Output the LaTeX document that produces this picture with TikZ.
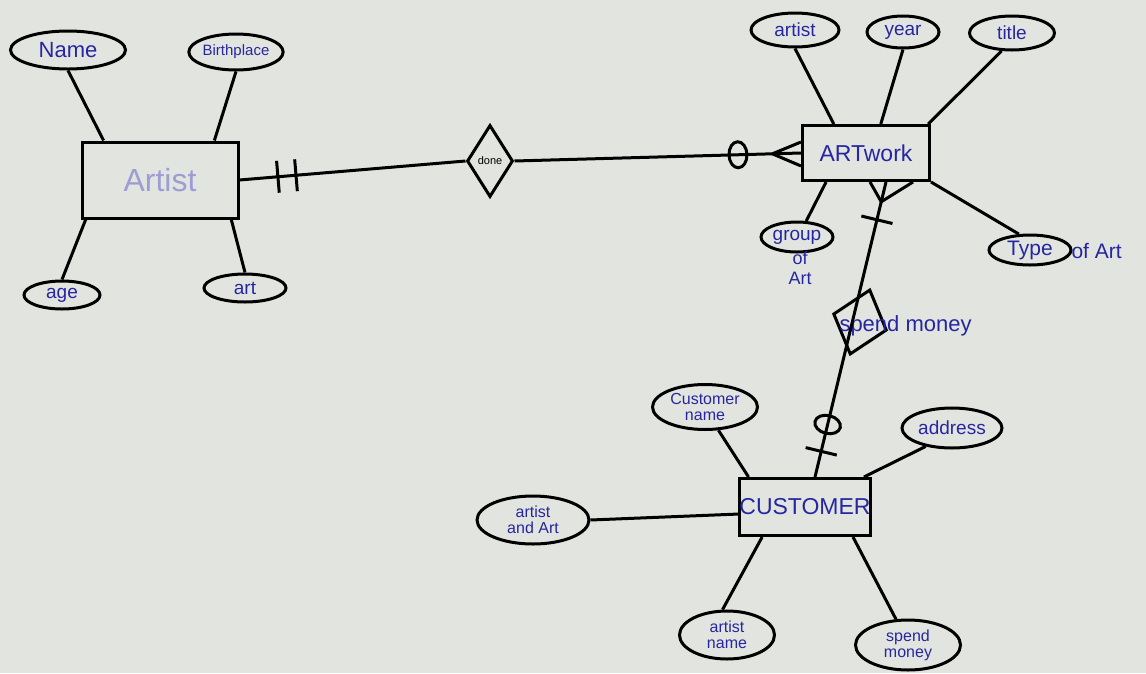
\documentclass[tikz,border=0pt]{standalone}
\usepackage{fontspec}
\setmainfont{Liberation Sans}
\usetikzlibrary{shapes.geometric}

\definecolor{paper}{RGB}{226,229,223}
\definecolor{ink}{RGB}{38,38,160}

\tikzset{
  entity/.style={draw,rectangle,inner sep=0pt,text=ink,font=\fontsize{23}{25}\selectfont},
  attrib/.style={draw,ellipse,inner sep=0pt,text=ink,align=center,font=\fontsize{19}{19}\selectfont},
  pair/.style={font=\fontsize{16}{16}\selectfont},
  rel/.style={draw,diamond,inner sep=0pt,aspect=0.7},
  note/.style={text=ink,inner sep=0pt,align=center,font=\fontsize{21}{21}\selectfont},
  tick/.style={draw,rectangle,inner sep=0pt,minimum width=0pt,minimum height=32pt,sloped},
  ring/.style={draw,ellipse,inner sep=0pt,minimum width=18pt,minimum height=26pt,sloped},
}

\begin{document}
\begin{tikzpicture}[x=1pt,y=-1pt,line width=3pt]
  \useasboundingbox (0,0) rectangle (1146,673);
  \fill[paper] (0,0) rectangle (1146,673);

  % entities
  \node[entity,minimum width=156pt,minimum height=76pt,text=ink!45,font=\fontsize{32}{34}\selectfont] (artist) at (160,180) {Artist};
  \node[entity,minimum width=127pt,minimum height=55pt] (artwork) at (866,153) {ARTwork};
  \node[entity,minimum width=130pt,minimum height=57pt] (customer) at (805,507) {CUSTOMER};

  % relationships
  \node[rel,minimum width=46pt,minimum height=72pt,font=\fontsize{11}{11}\selectfont] (done) at (490,161) {done};
  \node[rel,minimum width=56pt,minimum height=68pt,rotate=-17] (spend) at (860,322) {};
  \node[note,anchor=west,font=\fontsize{22}{22}\selectfont] (spendtxt) at (838,326) {spend money};

  % artist attributes
  \node[attrib,minimum width=115pt,minimum height=38pt,font=\fontsize{22}{22}\selectfont] (name) at (68,50) {Name};
  \node[attrib,minimum width=92pt,minimum height=36pt,font=\fontsize{15}{15}\selectfont] (birth) at (236,52) {Birthplace};
  \node[attrib,minimum width=76pt,minimum height=28pt] (age) at (62,295) {age};
  \node[attrib,minimum width=82pt,minimum height=28pt] (art) at (245,288) {art};

  % artwork attributes
  \node[attrib,minimum width=88pt,minimum height=34pt] (artistA) at (795,30) {artist};
  \node[attrib,minimum width=72pt,minimum height=32pt] (year) at (903,32) {year};
  \node[attrib,minimum width=85pt,minimum height=34pt] (title) at (1012,33) {title};
  \node[attrib,minimum width=72pt,minimum height=30pt] (group) at (797,237) {group};
  \node[note,font=\fontsize{18}{20}\selectfont] (groupof) at (800,268) {of\\Art};
  \node[attrib,minimum width=82pt,minimum height=30pt,font=\fontsize{21}{21}\selectfont] (type) at (1030,250) {Type};
  \node[note,anchor=west] (typeof) at (1070,251) {of Art};

  % customer attributes
  \node[attrib,pair,minimum width=105pt,minimum height=45pt] (cname) at (705,407) {Customer\\name};
  \node[attrib,minimum width=100pt,minimum height=40pt] (address) at (952,428) {address};
  \node[attrib,pair,minimum width=112pt,minimum height=48pt] (artart) at (533,520) {artist\\and Art};
  \node[attrib,pair,minimum width=95pt,minimum height=48pt] (aname) at (727,635) {artist\\name};
  \node[attrib,pair,minimum width=105pt,minimum height=50pt] (smoney) at (908,645) {spend\\money};

  % attribute lines
  \draw (name.south) -- (artist.145);
  \draw (birth.south) -- (artist.36);
  \draw (age.north) -- (artist.208);
  \draw (art.north) -- (artist.-29);
  \draw (artistA.south) -- (artwork.138);
  \draw (year.south) -- (artwork.63);
  \draw (title.240) -- (artwork.25);
  \draw (group.60) -- (artwork.216);
  \draw (type.125) -- (artwork.south east);
  \draw (cname.-60) -- (customer.152);
  \draw (address.215) -- (customer.27);
  \draw (artart.east) -- (customer.186);
  \draw (aname.100) -- (customer.215);
  \draw (smoney.115) -- (customer.-32);

  % relationship lines
  \draw (artist.east) -- (done.west) node[tick,pos=.17]{} node[tick,pos=.25]{};
  \draw (done.east) -- (artwork.west) node[ring,pos=.78]{} coordinate[pos=.9] (cfL);
  \draw (cfL) -- ([yshift=11pt]artwork.west);
  \draw (cfL) -- ([yshift=-13pt]artwork.west);
  \draw ([xshift=20pt]artwork.south) -- ([xshift=10pt]customer.north)
    coordinate[pos=.067] (cfB) node[tick,pos=.128]{} node[ring,pos=.822]{} node[tick,pos=.913]{};
  \draw (cfB) -- ([xshift=4pt]artwork.south);
  \draw (cfB) -- ([xshift=47pt]artwork.south);
\end{tikzpicture}
\end{document}
